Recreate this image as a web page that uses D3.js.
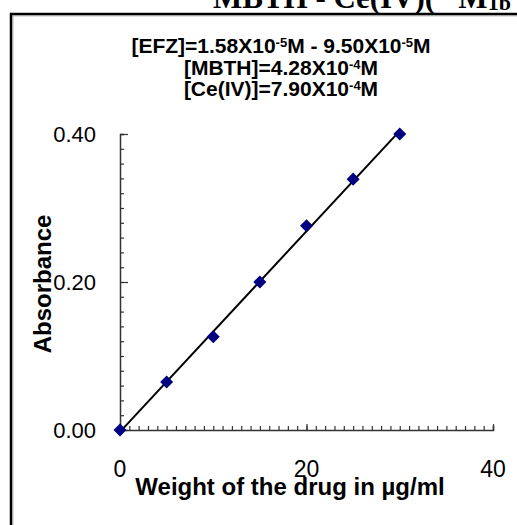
<!DOCTYPE html>
<html>
<head>
<meta charset="utf-8">
<script src="https://cdn.jsdelivr.net/npm/d3@7"></script>
<style>
  body { margin: 0; background: #fff; }
  svg { display: block; }
</style>
</head>
<body>
<svg id="chart" width="517" height="525"></svg>
<script>
// data
const drugWeight = [0, 5, 10, 15, 20, 25, 30];          // µg/ml
const absorbance = [0, 0.065, 0.126, 0.200, 0.276, 0.339, 0.400];
const xTicks = [0, 20, 40];
const yTicks = [0.00, 0.20, 0.40];
const noteLines = [
  ["[EFZ]=1.58X10", "-5", "M - 9.50X10", "-5", "M"],
  ["[MBTH]=4.28X10", "-4", "M"],
  ["[Ce(IV)]=7.90X10", "-4", "M"]
];

const svg = d3.select("#chart");
const sans = "'Liberation Sans', Arial, sans-serif";

// frame of the surrounding figure panel (clipped by the window)
svg.append("path")
  .attr("d", "M11,530 V14 H530")
  .attr("fill", "none")
  .attr("stroke", "#000")
  .attr("stroke-width", 2.5);
svg.append("path")
  .attr("d", "M12.8,530 V15.8 H530")
  .attr("fill", "none")
  .attr("stroke", "#999")
  .attr("stroke-width", 1);

// clipped page heading above the frame
const head = svg.append("text")
  .attr("x", 213).attr("y", 8)
  .attr("font-family", "'Liberation Serif', 'Times New Roman', serif")
  .attr("font-weight", "bold")
  .attr("font-size", 31)
  .attr("fill", "#000");
head.append("tspan").text("MBTH - Ce(IV)(\u201D M");
head.append("tspan").attr("font-size", 22).attr("dy", 2).text("1b");

// scales
const x = d3.scaleLinear().domain([0, 40]).range([120, 493]);
const y = d3.scaleLinear().domain([0, 0.40]).range([430, 134]);

const axisColor = "#333";

// x axis with minor ticks pointing inward
const gx = svg.append("g").attr("transform", `translate(0,${y(0)})`);
gx.call(d3.axisTop(x).ticks(40).tickSize(4).tickFormat(""))
  .call(g => g.selectAll("line").attr("stroke", axisColor).attr("stroke-width", 1.2))
  .call(g => g.select(".domain").attr("stroke", axisColor).attr("stroke-width", 1.5));
gx.append("g")
  .call(d3.axisTop(x).tickValues(xTicks).tickSize(6).tickFormat(""))
  .call(g => g.selectAll("line").attr("stroke", axisColor).attr("stroke-width", 1.2))
  .call(g => g.select(".domain").remove());
gx.selectAll(".xlab")
  .data(xTicks)
  .join("text")
  .attr("class", "xlab")
  .attr("x", d => x(d))
  .attr("y", 47)
  .attr("text-anchor", "middle")
  .attr("font-family", sans)
  .attr("font-size", 23)
  .attr("fill", "#000")
  .text(d => d);

// y axis
const gy = svg.append("g").attr("transform", `translate(${x(0)},0)`);
gy.call(d3.axisRight(y).ticks(20).tickSize(4).tickFormat(""))
  .call(g => g.selectAll("line").attr("stroke", axisColor).attr("stroke-width", 1.2))
  .call(g => g.select(".domain").attr("stroke", axisColor).attr("stroke-width", 1.5));
gy.append("g")
  .call(d3.axisRight(y).tickValues(yTicks).tickSize(8).tickFormat(""))
  .call(g => g.selectAll("line").attr("stroke", axisColor).attr("stroke-width", 1.2))
  .call(g => g.select(".domain").remove());
gy.selectAll(".ylab")
  .data(yTicks)
  .join("text")
  .attr("class", "ylab")
  .attr("x", -24)
  .attr("y", d => y(d) + 8)
  .attr("text-anchor", "end")
  .attr("font-family", sans)
  .attr("font-size", 22)
  .attr("fill", "#000")
  .text(d => d.toFixed(2));

// axis titles
svg.append("text")
  .attr("x", 290).attr("y", 495)
  .attr("text-anchor", "middle")
  .attr("font-family", sans)
  .attr("font-weight", "bold")
  .attr("font-size", 24)
  .attr("fill", "#000")
  .text("Weight of the drug in µg/ml");

svg.append("text")
  .attr("transform", "translate(51,284) rotate(-90)")
  .attr("text-anchor", "middle")
  .attr("font-family", sans)
  .attr("font-weight", "bold")
  .attr("font-size", 24)
  .attr("fill", "#000")
  .text("Absorbance");

// concentration notes
noteLines.forEach((parts, i) => {
  const t = svg.append("text")
    .attr("x", 281).attr("y", 53 + i * 21.5)
    .attr("text-anchor", "middle")
    .attr("font-family", sans)
    .attr("font-weight", "bold")
    .attr("font-size", 21)
    .attr("fill", "#000");
  parts.forEach((p, j) => {
    const sup = j % 2 === 1;
    t.append("tspan")
      .attr("font-size", sup ? 13 : 21)
      .attr("dy", sup ? -6 : (j > 0 ? 6 : 0))
      .text(p);
  });
});

// least squares line
const pts = drugWeight.map((d, i) => ({ x: d, y: absorbance[i] }));
const mx = d3.mean(pts, d => d.x), my = d3.mean(pts, d => d.y);
const slope = d3.sum(pts, d => (d.x - mx) * (d.y - my)) / d3.sum(pts, d => (d.x - mx) ** 2);
const icpt = my - slope * mx;
const xr = d3.extent(drugWeight);
svg.append("line")
  .attr("x1", x(xr[0])).attr("y1", y(icpt + slope * xr[0]))
  .attr("x2", x(xr[1])).attr("y2", y(icpt + slope * xr[1]))
  .attr("stroke", "#000")
  .attr("stroke-width", 2);

// markers
svg.selectAll(".pt")
  .data(pts)
  .join("path")
  .attr("class", "pt")
  .attr("d", d3.symbol(d3.symbolSquare, 85))
  .attr("transform", d => `translate(${x(d.x)},${y(d.y)}) rotate(45)`)
  .attr("fill", "#000080");
</script>
</body>
</html>
